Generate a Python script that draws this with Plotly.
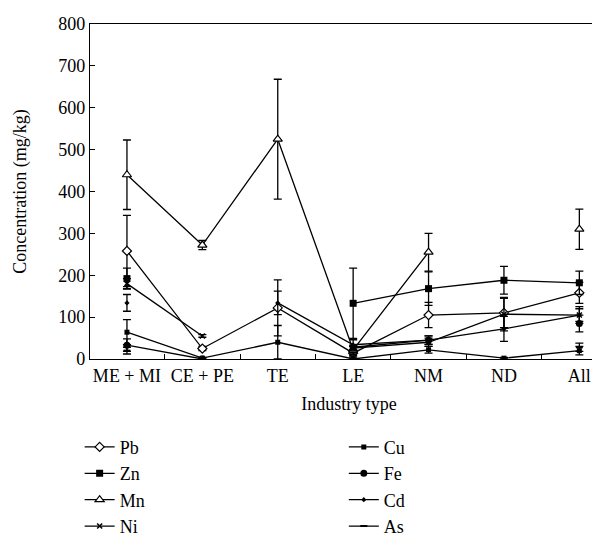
import plotly.graph_objects as go

categories = ["ME + MI", "CE + PE", "TE", "LE", "NM", "ND", "All"]

pb = [258, 25, 122, 14, 105, 110, 158]
pb_err = [85, 5, 67, 6, 30, 35, 25]
zn = [192, None, None, 133, 168, 188, 182]
zn_err = [25, 0, 0, 84, 40, 33, 28]
mn = [440, 272, 525, 22, 255, None, 310]
mn_err = [83, 11, 143, 8, 45, 0, 48]
ni = [180, 55, None, 26, 40, 107, 105]
ni_err = [12, 3, 0, 5, 10, 40, 15]
cu = [64, 2, 40, 0, 22, 2, 20]
cu_err = [30, 2, 40, 2, 8, 2, 10]
fe = [33, 0, None, 28, 45, None, 85]
fe_err = [15, 2, 0, 5, 10, 0, 20]
cd = [134, None, 134, 34, 45, 72, 105]
cd_err = [20, 0, 28, 12, 10, 30, 20]
as_vals = [20, None, None, 10, None, None, 28]
as_err = [8, 0, 0, 5, 0, 0, 10]

FONT = "Liberation Serif"
FS = 18

series = [
    ("Pb", pb, pb_err, dict(symbol="diamond", size=7, color="white", line=dict(color="black", width=1.2)), "legend"),
    ("Zn", zn, zn_err, dict(symbol="square", size=7, color="black"), "legend"),
    ("Mn", mn, mn_err, dict(symbol="triangle-up", size=8, color="white", line=dict(color="black", width=1.2)), "legend"),
    ("Ni", ni, ni_err, dict(symbol="x-thin", size=5, color="black", line=dict(color="black", width=1.5)), "legend"),
    ("Cu", cu, cu_err, dict(symbol="square", size=5, color="black"), "legend2"),
    ("Fe", fe, fe_err, dict(symbol="circle", size=7, color="black"), "legend2"),
    ("Cd", cd, cd_err, dict(symbol="diamond", size=4, color="black"), "legend2"),
    ("As", as_vals, as_err, dict(symbol="line-ew", size=5, color="black", line=dict(color="black", width=2)), "legend2"),
]

fig = go.Figure()
for name, vals, err, mk, lg in series:
    fig.add_trace(go.Scatter(
        x=categories, y=vals, name=name, mode="lines+markers",
        line=dict(color="black", width=1.3),
        marker=mk,
        connectgaps=False,
        legend=lg,
        error_y=dict(type="data", array=err, visible=True, color="black", thickness=1.3, width=4),
    ))

legend_common = dict(
    orientation="v", yanchor="top", y=-0.208, xanchor="left",
    font=dict(family=FONT, size=FS), bgcolor="rgba(0,0,0,0)", tracegroupgap=0,
)

fig.update_layout(
    width=600, height=537,
    margin=dict(l=82, r=0, t=16, b=186, autoexpand=False),
    plot_bgcolor="white", paper_bgcolor="white",
    font=dict(family=FONT, size=FS, color="black"),
    showlegend=True,
    legend=dict(x=-0.02, **legend_common),
    legend2=dict(x=0.49, **legend_common),
)
fig.update_xaxes(
    type="category", categoryorder="array", categoryarray=categories,
    range=[-0.49, 6.38], tickangle=0,
    showline=True, linecolor="black", linewidth=1.3, mirror=True,
    ticks="inside", tickson="boundaries", ticklen=5, tickcolor="black",
    showgrid=False, zeroline=False,
    title=dict(text="Industry type", font=dict(family=FONT, size=FS), standoff=12),
)
fig.update_yaxes(
    range=[0, 800], tickvals=[0, 100, 200, 300, 400, 500, 600, 700, 800],
    showline=True, linecolor="black", linewidth=1.3,
    ticks="inside", ticklen=5, tickcolor="black",
    showgrid=False, zeroline=False,
    title=dict(text="Concentration (mg/kg)", font=dict(family=FONT, size=FS), standoff=26),
)

fig.write_html("out.html")
